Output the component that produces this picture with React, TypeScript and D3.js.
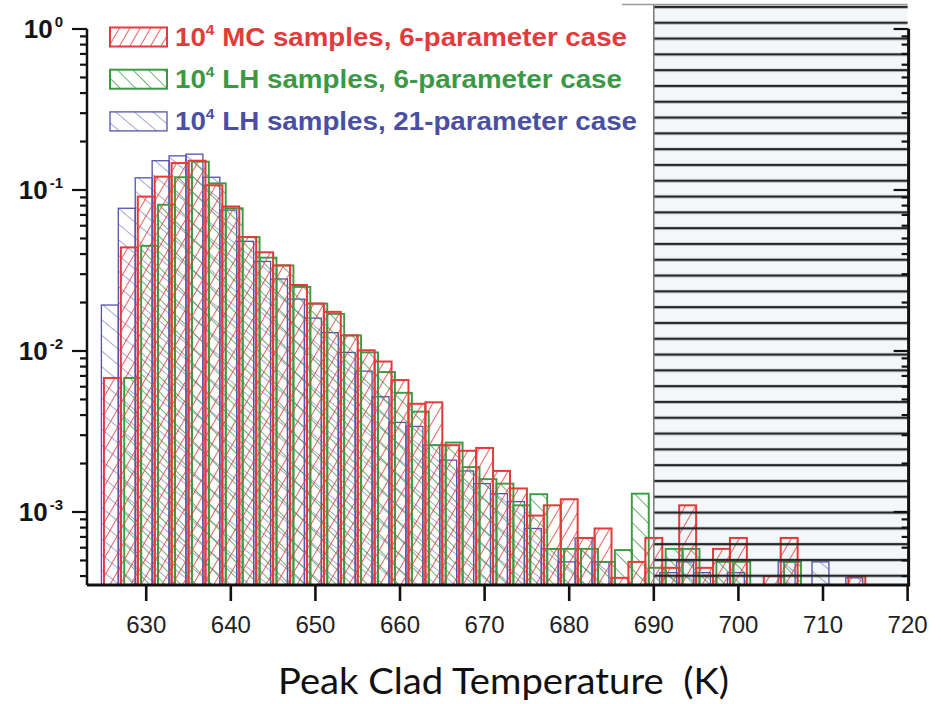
import React from "react";
import * as d3 from "d3";

// histogram bins, 2 K wide; each series has its own bin origin
const binWidth = 2;

const mcStart = 625;
const mcValues = [
  0.0068, 0.044, 0.091, 0.121, 0.147, 0.152, 0.107, 0.079, 0.051, 0.041,
  0.034, 0.0257, 0.0197, 0.0175, 0.0125, 0.0101, 0.0086, 0.0066, 0.0047, 0.0048,
  0.0026, 0.0024, 0.0025, 0.0018, 0.0014, 0.00095, 0.0011, 0.0012, 0.00069, 0.00079,
  0.00039, 0.00049, 0.00069, 0.00045, 0.0011, 0.00045, 0.00059, 0.00069, 0, 0.0004,
  0.00069, 0, 0, 0, 0.0004,
];

const lh6Start = 625.4;
const lh6Values = [
  0, 0.0068, 0.045, 0.081, 0.12, 0.15, 0.11, 0.077, 0.051, 0.038,
  0.034, 0.025, 0.0197, 0.017, 0.0125, 0.0098, 0.0074, 0.0055, 0.0042, 0.0026,
  0.0027, 0.0019, 0.0016, 0.0015, 0.0011, 0.00129, 0.00059, 0.00059, 0.00059, 0.00049,
  0.00058, 0.0013, 0.00045, 0.00059, 0.00059, 0.0004, 0.00049, 0.00049, 0, 0,
  0.00049,
];

const lh21Start = 624.7;
const lh21Values = [
  0.0193, 0.077, 0.119, 0.152, 0.163, 0.167, 0.12, 0.075, 0.048, 0.036,
  0.028, 0.021, 0.016, 0.013, 0.0098, 0.0075, 0.0052, 0.0036, 0.0034, 0.0026,
  0.0021, 0.0018, 0.0015, 0.0013, 0.00116, 0.00079, 0.00059, 0.00049, 0.00069, 0.00049,
  0, 0, 0, 0.00042, 0.00049, 0.00042, 0, 0.00042, 0, 0,
  0.00049, 0, 0.00049, 0, 0.00039,
];

const xTicks = [630, 640, 650, 660, 670, 680, 690, 700, 710, 720];
const yDecades = [1, 0.1, 0.01, 0.001];
const yExponents = ["0", "-1", "-2", "-3"];
const shadeFrom = 690;
const shadeTo = 720;

const legendLabels = [
  " MC samples, 6-parameter case",
  " LH samples, 6-parameter case",
  " LH samples, 21-parameter case",
];

const W = 941;
const H = 704;
const left = 87;
const right = 907.6;
const bottom = 585;
const top = 29;

const x = d3.scaleLinear().domain([623, 720]).range([left, right]);
const y = d3.scaleLog().domain([3.52e-4, 1]).range([bottom, top]);

const RED = "#e5393a";
const GREEN = "#3a9a42";
const BLUE = "#5253ae";

export default function App() {
  const series = [
    { id: "lh21", start: lh21Start, values: lh21Values, color: BLUE, sw: 1.3, angle: -50, gap: 12 },
    { id: "lh6", start: lh6Start, values: lh6Values, color: GREEN, sw: 1.9, angle: -45, gap: 11 },
    { id: "mc", start: mcStart, values: mcValues, color: RED, sw: 2, angle: 30, gap: 9 },
  ];
  const legend = [
    { id: "mc", color: RED, text: "#e23b3b", sw: 2, label: legendLabels[0], len: 452 },
    { id: "lh6", color: GREEN, text: "#3b9946", sw: 2, label: legendLabels[1], len: 447 },
    { id: "lh21", color: BLUE, text: "#4a4fa4", sw: 1.3, label: legendLabels[2], len: 462 },
  ];
  const minorTicks = y.ticks();

  return (
    <svg
      width={W}
      height={H}
      style={{ position: "absolute", left: 0, top: 0, background: "#fff", display: "block" }}
      fontFamily="'Liberation Sans', Arial, sans-serif"
    >
      <defs>
        {series.map((s) => (
          <pattern
            key={s.id}
            id={`hatch-${s.id}`}
            patternUnits="userSpaceOnUse"
            width={s.gap}
            height={s.gap}
            patternTransform={`rotate(${s.angle})`}
          >
            <line x1={0} y1={0} x2={0} y2={s.gap} stroke={s.color} strokeWidth={s.sw * 0.8} />
          </pattern>
        ))}
        <pattern id="hatch-shade" patternUnits="userSpaceOnUse" width={20} height={15.8}>
          <line x1={0} y1={7} x2={20} y2={7} stroke="#262626" strokeWidth={2.4} />
        </pattern>
      </defs>

      {/* light tint of the shaded region, under the bars */}
      <rect
        x={x(shadeFrom)}
        y={5}
        width={x(shadeTo) - x(shadeFrom)}
        height={bottom - 5}
        fill="#f3f7fa"
      />

      {/* bars */}
      {series.map((s) => (
        <g key={s.id}>
          {s.values.map((v, i) => {
            if (!v) return null;
            const x0 = x(s.start + i * binWidth);
            const x1 = x(s.start + (i + 1) * binWidth);
            return (
              <rect
                key={i}
                x={x0}
                y={y(v)}
                width={x1 - x0}
                height={bottom - y(v)}
                fill={`url(#hatch-${s.id})`}
                stroke={s.color}
                strokeWidth={s.sw}
              />
            );
          })}
        </g>
      ))}

      {/* shaded region lines over the bars */}
      <rect
        x={x(shadeFrom)}
        y={5}
        width={x(shadeTo) - x(shadeFrom)}
        height={bottom - 5}
        fill="url(#hatch-shade)"
      />
      <line x1={x(shadeFrom)} x2={x(shadeFrom)} y1={5} y2={bottom} stroke="#777" strokeWidth={1.5} />
      <line x1={622} x2={right} y1={4.5} y2={4.5} stroke="#999" strokeWidth={1.3} />

      {/* axes */}
      <line x1={left} x2={left} y1={top} y2={bottom} stroke="#111" strokeWidth={2.5} />
      <line x1={right + 1} x2={right + 1} y1={top} y2={bottom} stroke="#111" strokeWidth={3} />
      <line x1={left} x2={right + 2.5} y1={bottom} y2={bottom} stroke="#111" strokeWidth={3} />

      {minorTicks.map((t, i) => {
        const major = Math.abs(Math.log10(t) - Math.round(Math.log10(t))) < 1e-6;
        const len = major ? 15 : 7;
        return (
          <g key={i}>
            <line x1={left - len} x2={left} y1={y(t)} y2={y(t)} stroke="#111" strokeWidth={2.2} />
            <line x1={right + 1 - len} x2={right + 1} y1={y(t)} y2={y(t)} stroke="#111" strokeWidth={2.2} />
          </g>
        );
      })}

      {yDecades.map((d, i) => (
        <text
          key={d}
          x={63}
          y={y(d) + 9}
          textAnchor="end"
          fontSize={26}
          fontWeight="bold"
          fill="#151515"
        >
          10
          <tspan dx={2} dy={-11} fontSize={15}>
            {yExponents[i]}
          </tspan>
        </text>
      ))}

      {xTicks.map((t) => (
        <g key={t}>
          <line x1={x(t)} x2={x(t)} y1={bottom} y2={bottom + 16} stroke="#111" strokeWidth={2.6} />
          <text x={x(t)} y={bottom + 48} textAnchor="middle" fontSize={24} fill="#222">
            {t}
          </text>
        </g>
      ))}

      <text
        x={278}
        y={694}
        fontSize={36}
        fontFamily="Lato, 'Open Sans', sans-serif"
        fill="#111"
        textLength={451}
        lengthAdjust="spacingAndGlyphs"
        style={{ whiteSpace: "pre" }}
      >
        {"Peak Clad Temperature  (K)"}
      </text>

      {/* legend */}
      {legend.map((l, i) => {
        const cy = 37 + i * 42.2;
        return (
          <g key={l.id}>
            <rect
              x={110}
              y={cy - 9.5}
              width={57}
              height={19}
              fill={`url(#hatch-${l.id})`}
              stroke={l.color}
              strokeWidth={l.sw}
            />
            <text
              x={175}
              y={cy + 9}
              fontSize={25}
              fontWeight="bold"
              fill={l.text}
              textLength={l.len}
              lengthAdjust="spacingAndGlyphs"
              style={{ whiteSpace: "pre" }}
            >
              10
              <tspan dy={-11} fontSize={14}>4</tspan>
              <tspan dy={11}>{l.label}</tspan>
            </text>
          </g>
        );
      })}
    </svg>
  );
}
